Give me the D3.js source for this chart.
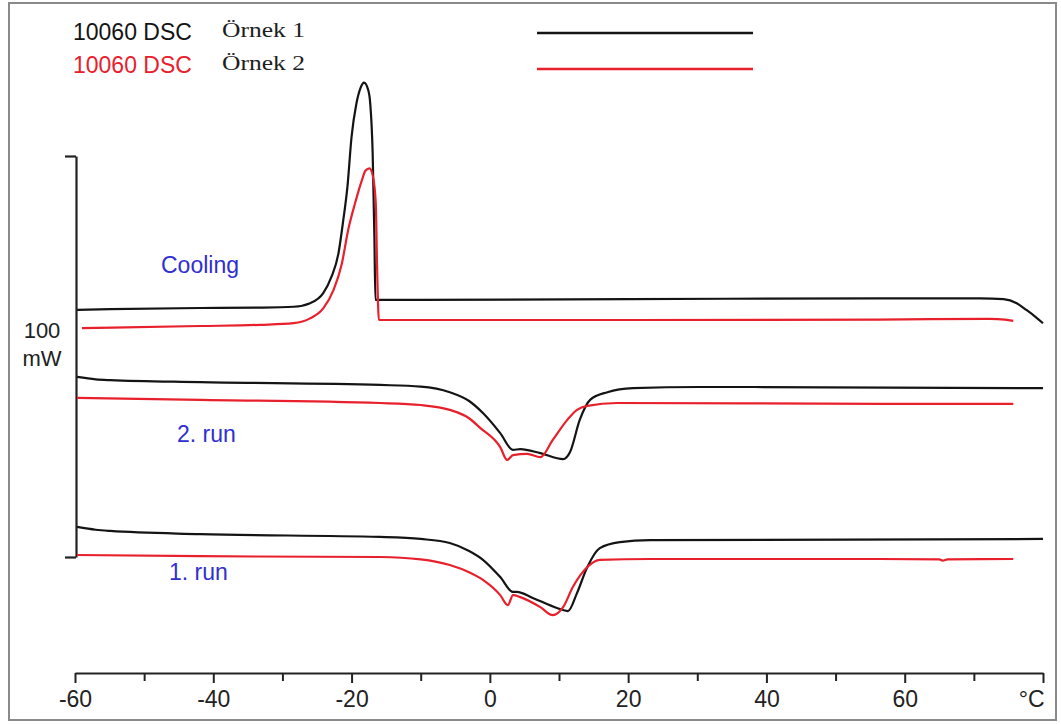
<!DOCTYPE html>
<html>
  <head>
    <meta charset="utf-8">
    <title>10060 DSC</title>
    <script src="https://cdn.jsdelivr.net/npm/d3@7"></script>
    <style>
      body { margin: 0; background: #fff; }
      text { font-family: "Liberation Sans", Arial, sans-serif; }
    </style>
  </head>
  <body>
    <svg id="chart" width="1061" height="724"></svg>
    <script>
      // temperature (°C), heat flow (mW); curves are stacked with offsets
      var cooling1 = [[-59.7,61.6],[-54.9,61.8],[-41.9,62.1],[-33.2,62.2],[-28.4,62.4],[-26.0,63.3],
        [-24.1,65.8],[-22.9,69.9],[-21.9,75.7],[-21.2,84.0],[-20.6,92.3],[-20.0,104.8],[-19.3,113.1],
        [-18.7,117.0],[-18.2,118.3],[-17.6,116.5],[-17.3,113.1],[-16.95,100.7],[-16.7,79.9],
        [-16.55,64.1],[-15.0,64.1],[20,64.3],[56.4,64.5],[70.9,64.5],[74.3,64.3],[76.2,63.3],
        [77.6,61.6],[78.9,59.9],[80,58.3]];
      var cooling2 = [[-59.0,57.1],[-41.9,57.6],[-33.2,57.9],[-28.4,58.3],[-26.0,59.5],[-24.1,62.0],
        [-22.6,66.6],[-21.4,73.2],[-20.5,81.5],[-19.5,88.2],[-18.5,94.0],[-18.0,96.3],[-17.4,96.9],
        [-16.9,94.8],[-16.5,88.2],[-16.3,71.6],[-16.05,59.1],[-14.0,59.1],[15.9,59.1],[56.4,59.2],
        [72.3,59.4],[74.5,59.2],[75.7,58.9]];
      var run2a = [[-59.7,44.9],[-57.0,44.3],[-54.9,44.1],[-41.9,43.6],[-15.9,42.9],[-10.0,42.5],
        [-5.8,41.1],[-3.0,38.9],[-1.0,35.9],[1.5,30.9],[3.35,26.7],[4.4,26.9],[7.3,25.9],[10.6,24.4],
        [11.6,26.2],[13.0,34.2],[14.5,39.2],[17.0,41.1],[20.7,42.1],[30.4,42.4],[80,42.1]];
      var run2b = [[-59.7,39.7],[-41.9,39.2],[-15.9,38.4],[-10.0,37.9],[-5.8,36.7],[-3.0,34.6],
        [-1.4,32.2],[1.5,27.4],[2.5,24.2],[3.35,25.4],[5.4,25.7],[7.3,24.9],[9.1,29.2],[11.2,34.2],
        [12.6,36.7],[14.1,37.7],[18.4,38.4],[56.4,38.2],[75.7,38.2]];
      var run1a = [[-59.7,7.5],[-57.0,6.8],[-54.9,6.5],[-41.9,5.7],[-15.9,5.0],[-10.0,4.5],[-5.8,3.5],
        [-3.0,1.5],[-1.0,-0.7],[1.5,-5.0],[3.35,-8.7],[3.9,-8.7],[6.2,-10.2],[9.7,-12.7],[11.3,-13.5],
        [12.6,-9.0],[14.1,-2.5],[15.9,2.2],[18.8,3.7],[23.2,4.2],[80,4.5]];
      var run1b = [[-59.7,0.5],[-41.9,0.2],[-15.9,0],[-10.0,-0.6],[-5.8,-2.0],[-3.0,-3.8],[-1.0,-5.7],
        [1.5,-9.5],[2.6,-12.0],[3.35,-9.5],[4.4,-10.0],[7.3,-12.5],[9.1,-14.5],[10.6,-12.5],[12.0,-7.5],
        [14.1,-2.5],[15.9,-0.7],[23.2,-0.5],[56.4,-0.5],[65.0,-0.6],[65.5,-0.9],[66.2,-0.6],[75.7,-0.5]];

      var majorTicks = [-60, -40, -20, 0, 20, 40, 60, 80];
      var minorTicks = [-50, -30, -10, 10, 30, 50, 70];
      var legendNames = ["10060 DSC", "10060 DSC"];
      var legendSamples = ["Örnek 1", "Örnek 2"];
      var segmentLabels = ["Cooling", "2. run", "1. run"];

      var black = "#141414", red = "#e8202c", blue = "#2f2fcf";

      var svg = d3.select("#chart");
      var x = d3.scaleLinear().domain([-60, 80]).range([75, 1043]);
      var y = d3.scaleLinear().domain([0, 100]).range([557, 156]);

      // frame
      svg.append("rect")
        .attr("x", 9).attr("y", 3).attr("width", 1047).attr("height", 717)
        .attr("fill", "none").attr("stroke", "#8a8a8a").attr("stroke-width", 2);

      // x axis
      var xAxis = svg.append("g").attr("transform", "translate(0,673)")
        .call(d3.axisBottom(x).tickValues(majorTicks).tickSize(10).tickSizeOuter(0).tickPadding(8)
          .tickFormat(function(d) { return d === 80 ? "°C" : d; }));
      xAxis.select(".domain").attr("stroke-width", 2.2).attr("stroke", "#222");
      xAxis.selectAll(".tick line").attr("stroke-width", 2).attr("stroke", "#222");
      xAxis.selectAll("text").attr("font-size", 23).attr("fill", "#222");
      xAxis.selectAll(".tick text").filter(function(d) { return d === 80; })
        .attr("text-anchor", "end").attr("x", 1);

      var xMinor = svg.append("g").attr("transform", "translate(0,673)")
        .call(d3.axisBottom(x).tickValues(minorTicks).tickSize(8).tickFormat(""));
      xMinor.select(".domain").remove();
      xMinor.selectAll(".tick line").attr("stroke-width", 2).attr("stroke", "#222");

      // 100 mW scale bar
      var yAxis = svg.append("g").attr("transform", "translate(76,0)")
        .call(d3.axisLeft(y).tickValues([0, 100]).tickSize(11).tickSizeOuter(0).tickFormat(""));
      yAxis.select(".domain").attr("stroke-width", 2.2).attr("stroke", "#222");
      yAxis.selectAll(".tick line").attr("stroke-width", 2.2).attr("stroke", "#222");

      svg.append("text").attr("x", 42).attr("y", 338).attr("text-anchor", "middle")
        .attr("font-size", 22).attr("fill", "#222").text("100");
      svg.append("text").attr("x", 42).attr("y", 366).attr("text-anchor", "middle")
        .attr("font-size", 22).attr("fill", "#222").text("mW");

      // curves
      var line = d3.line()
        .x(function(d) { return x(d[0]); })
        .y(function(d) { return y(d[1]); })
        .curve(d3.curveMonotoneX);

      var curves = [
        {data: cooling1, color: black}, {data: cooling2, color: red},
        {data: run2a, color: black}, {data: run2b, color: red},
        {data: run1a, color: black}, {data: run1b, color: red}
      ];
      svg.append("g").selectAll("path")
        .data(curves)
        .join("path")
        .attr("d", function(d) { return line(d.data); })
        .attr("fill", "none")
        .attr("stroke", function(d) { return d.color; })
        .attr("stroke-width", 2.2)
        .attr("stroke-linejoin", "round");

      // segment labels
      var labelPos = [[161, 273], [177, 442], [169, 580]];
      svg.append("g").selectAll("text")
        .data(segmentLabels)
        .join("text")
        .attr("x", function(d, i) { return labelPos[i][0]; })
        .attr("y", function(d, i) { return labelPos[i][1]; })
        .attr("font-size", 23)
        .attr("fill", blue)
        .text(function(d) { return d; });

      // legend
      var legendY = [40, 73];
      var legendColors = [black, red];
      var leg = svg.append("g");
      leg.selectAll("text.name")
        .data(legendNames)
        .join("text")
        .classed("name", true)
        .attr("x", 73)
        .attr("y", function(d, i) { return legendY[i]; })
        .attr("font-size", 23)
        .attr("fill", function(d, i) { return legendColors[i]; })
        .text(function(d) { return d; });
      leg.selectAll("text.sample")
        .data(legendSamples)
        .join("text")
        .classed("sample", true)
        .attr("x", 222)
        .attr("y", function(d, i) { return legendY[i] - 3; })
        .attr("font-size", 20)
        .style("font-family", "'Liberation Serif', 'Times New Roman', serif")
        .attr("textLength", 83)
        .attr("lengthAdjust", "spacingAndGlyphs")
        .attr("fill", "#1e1e1e")
        .text(function(d) { return d; });
      leg.selectAll("line")
        .data(legendColors)
        .join("line")
        .attr("x1", 537).attr("x2", 753)
        .attr("y1", function(d, i) { return [33, 69][i]; })
        .attr("y2", function(d, i) { return [33, 69][i]; })
        .attr("stroke", function(d) { return d; })
        .attr("stroke-width", 2.6);
    </script>
  </body>
</html>
